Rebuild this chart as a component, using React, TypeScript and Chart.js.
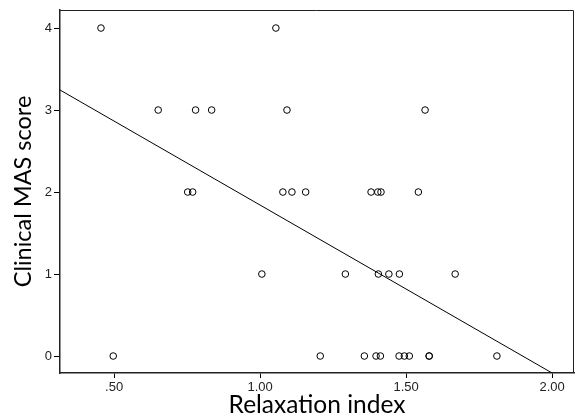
import React, { useEffect, useRef } from "react";
import { Chart, registerables } from "chart.js";

Chart.register(...registerables);

// MAS score rows (y) and relaxation index values (x)
const score4 = [0.455, 1.054];
const score3 = [0.651, 0.779, 0.834, 1.092, 1.565];
const score2 = [0.752, 0.769, 1.078, 1.109, 1.156, 1.38, 1.403, 1.414, 1.542];
const score1 = [1.006, 1.292, 1.405, 1.441, 1.477, 1.668];
const score0 = [0.497, 1.206, 1.357, 1.397, 1.412, 1.476, 1.494, 1.511, 1.579, 1.579, 1.811];

const xTicks = [0.5, 1.0, 1.5, 2.0];
const yTicks = [0, 1, 2, 3, 4];

const xMin = 0.3147;
const xMax = 2.075;
const yMin = -0.207;
const yMax = 4.22;

// fit line
const fitIntercept = 3.889;
const fitSlope = -2.048;

const framePlugin = {
  id: "frame",
  afterDraw(chart: any) {
    const { ctx, chartArea } = chart;
    ctx.save();
    ctx.strokeStyle = "#222";
    ctx.lineWidth = 1;
    ctx.beginPath();
    ctx.moveTo(chartArea.left, chartArea.top + 0.5);
    ctx.lineTo(chartArea.right - 0.5, chartArea.top + 0.5);
    ctx.lineTo(chartArea.right - 0.5, chartArea.bottom);
    ctx.stroke();
    ctx.restore();
  },
};

export default function App() {
  const ref = useRef<HTMLCanvasElement | null>(null);
  useEffect(() => {
    document.body.style.margin = "0";
    const points: { x: number; y: number }[] = [];
    const rows: [number, number[]][] = [
      [4, score4],
      [3, score3],
      [2, score2],
      [1, score1],
      [0, score0],
    ];
    rows.forEach(([y, xs]) => xs.forEach((x) => points.push({ x, y })));
    const fit = [
      { x: xMin, y: fitIntercept + fitSlope * xMin },
      { x: xMax, y: fitIntercept + fitSlope * xMax },
    ];
    const chart = new Chart(ref.current!, {
      type: "scatter",
      data: {
        datasets: [
          {
            data: points,
            pointRadius: 3.3,
            pointBorderWidth: 1,
            pointBorderColor: "#000",
            pointBackgroundColor: "rgba(0,0,0,0)",
            showLine: false,
          } as any,
          {
            type: "line",
            data: fit,
            borderColor: "#000",
            borderWidth: 1,
            pointRadius: 0,
            fill: false,
          } as any,
        ],
      },
      options: {
        animation: false,
        responsive: true,
        maintainAspectRatio: false,
        layout: { padding: { top: 10, right: 2, left: 0, bottom: 0 } },
        plugins: { legend: { display: false }, tooltip: { enabled: false } },
        scales: {
          x: {
            type: "linear",
            min: xMin,
            max: xMax,
            afterBuildTicks: (s: any) => {
              s.ticks = xTicks.map((v) => ({ value: v }));
            },
            afterFit: (s: any) => {
              s.height = 44;
            },
            grid: { drawOnChartArea: false, drawTicks: true, tickLength: 5, color: "#000" },
            border: { display: true, color: "#222", width: 1.5 },
            ticks: {
              color: "#222",
              font: { family: "Liberation Sans", size: 13 },
              padding: 2,
              maxRotation: 0,
              callback: (v: any) => Number(v).toFixed(2).replace(/^0/, ""),
            },
            title: {
              display: true,
              text: "Relaxation index",
              color: "#000",
              font: { family: "Lato", size: 24.5, lineHeight: 1 },
              padding: { top: 0, bottom: 0 },
            },
          },
          y: {
            type: "linear",
            min: yMin,
            max: yMax,
            afterBuildTicks: (s: any) => {
              s.ticks = yTicks.map((v) => ({ value: v }));
            },
            afterFit: (s: any) => {
              s.width = 60;
            },
            grid: { drawOnChartArea: false, drawTicks: true, tickLength: 6, color: "#000" },
            border: { display: true, color: "#222", width: 1.5 },
            ticks: {
              color: "#222",
              font: { family: "Liberation Sans", size: 13 },
              padding: 2,
              callback: (v: any) => String(v),
            },
            title: {
              display: true,
              text: "Clinical MAS score",
              color: "#000",
              font: { family: "Lato", size: 23.5, lineHeight: 1 },
              padding: { top: 12, bottom: 0 },
            },
          },
        },
      },
      plugins: [framePlugin],
    });
    return () => chart.destroy();
  }, []);
  return (
    <div style={{ position: "fixed", left: 0, top: 0, width: 579, height: 417 }}>
      <canvas ref={ref} />
    </div>
  );
}
